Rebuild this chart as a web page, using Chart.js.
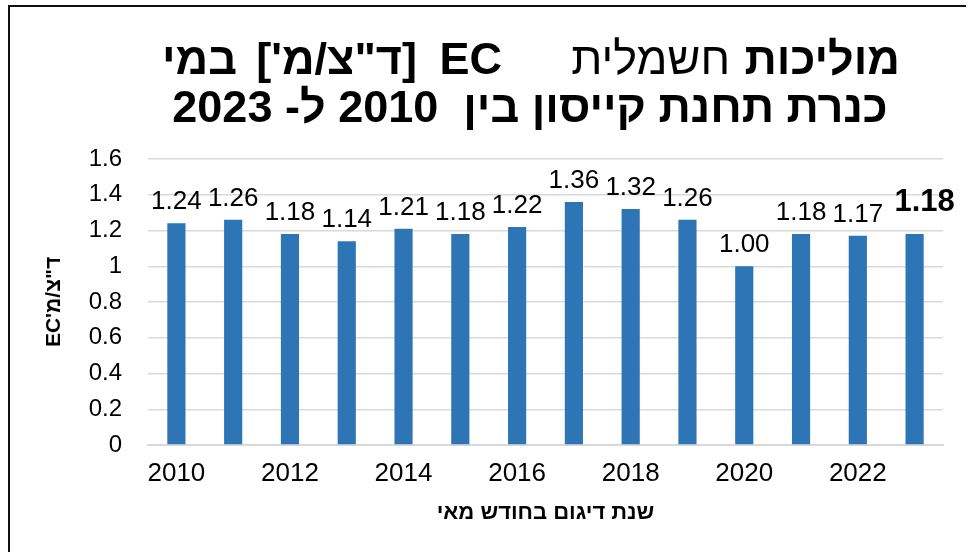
<!DOCTYPE html>
<html>
<head>
<meta charset="utf-8">
<script src="https://cdn.jsdelivr.net/npm/chart.js@4.4.1/dist/chart.umd.min.js"></script>
<style>
  html, body { margin: 0; padding: 0; background: #fff; }
  #wrap { position: relative; width: 971px; height: 552px; }
</style>
</head>
<body>
<div id="wrap"><canvas id="ecChart" dir="rtl"></canvas></div>
<script>
// data
const years = ['2010', '2011', '2012', '2013', '2014', '2015', '2016',
  '2017', '2018', '2019', '2020', '2021', '2022', '2023'];
const ecValues = [1.24, 1.26, 1.18, 1.14, 1.21, 1.18, 1.22,
  1.36, 1.32, 1.26, 1.00, 1.18, 1.17, 1.18];
const yTickValues = [0, 0.2, 0.4, 0.6, 0.8, 1, 1.2, 1.4, 1.6];

// title pieces, logical (right-to-left) order, with weight
const titleLine1 = [
  { text: 'מוליכות', bold: true },
  { text: 'חשמלית', bold: false },
  { text: 'EC', bold: true },
  { text: '[ד"צ/מ\']', bold: true },
  { text: 'במי', bold: true },
];
const titleLine2 = 'כנרת תחנת קייסון בין  2010 ל- 2023';
const yAxisTitle = 'ד"צ/מ\'EC';
const xAxisTitle = 'שנת דיגום בחודש מאי';

const FONT = '"Liberation Sans", Arial, sans-serif';
Chart.defaults.font.family = FONT;
Chart.defaults.color = '#000';

// border + two-line title with mixed weight
const frameAndTitle = {
  id: 'frameAndTitle',
  afterDraw(chart) {
    const ctx = chart.ctx;
    ctx.save();
    ctx.strokeStyle = '#111';
    ctx.lineWidth = 2;
    ctx.beginPath();
    ctx.moveTo(9, 552);
    ctx.lineTo(9, 6);
    ctx.lineTo(966, 6);
    ctx.stroke();

    ctx.direction = 'rtl';
    ctx.fillStyle = '#000';
    ctx.textBaseline = 'alphabetic';
    ctx.textAlign = 'right';
    // right edge of each piece on line 1
    const rightEdges = [900, 730, 502, 417, 237];
    titleLine1.forEach((seg, i) => {
      ctx.font = (seg.bold ? 'bold ' : '') + '45px ' + FONT;
      ctx.fillText(seg.text, rightEdges[i], 74);
    });
    ctx.textAlign = 'center';
    ctx.font = 'bold 45px ' + FONT;
    ctx.fillText(titleLine2, 530, 122);
    ctx.restore();
  }
};

// value labels above the bars, last one bold and larger
const valueLabels = {
  id: 'valueLabels',
  afterDatasetsDraw(chart) {
    const ctx = chart.ctx;
    const meta = chart.getDatasetMeta(0);
    ctx.save();
    ctx.textAlign = 'center';
    ctx.textBaseline = 'alphabetic';
    ctx.fillStyle = '#000';
    meta.data.forEach((bar, i) => {
      const last = i === meta.data.length - 1;
      ctx.font = last ? 'bold 31px ' + FONT : '26px ' + FONT;
      ctx.fillText(ecValues[i].toFixed(2), bar.x + (last ? 10 : 0), bar.y - (last ? 23 : 14));
    });
    ctx.restore();
  }
};

new Chart(document.getElementById('ecChart'), {
  type: 'bar',
  data: {
    labels: years,
    datasets: [{
      data: ecValues,
      backgroundColor: '#2e75b6',
      borderWidth: 0,
      barPercentage: 0.32,
      categoryPercentage: 1,
    }],
  },
  options: {
    responsive: true,
    maintainAspectRatio: false,
    animation: false,
    layout: { padding: { top: 159, right: 28, left: 20, bottom: 18 } },
    plugins: { legend: { display: false }, tooltip: { enabled: false } },
    scales: {
      x: {
        grid: { display: false, drawTicks: false },
        border: { color: '#d9d9d9', width: 2 },
        ticks: {
          autoSkip: false,
          maxRotation: 0,
          padding: 13,
          font: { size: 26 },
          color: '#000',
          callback: (v, i) => (i % 2 === 0 ? years[i] : ''),
        },
        title: {
          display: true,
          text: xAxisTitle,
          font: { size: 22, weight: 'bold' },
          padding: { top: 4, bottom: 8 },
        },
        afterFit: (s) => { s.height = 552 - 445 - 18; },
      },
      y: {
        min: 0,
        max: 1.6,
        grid: { color: '#d9d9d9', lineWidth: 1.5, drawTicks: false },
        border: { display: false },
        afterBuildTicks: (s) => { s.ticks = yTickValues.map((v) => ({ value: v })); },
        ticks: {
          padding: 26,
          font: { size: 24 },
          color: '#000',
          callback: (v) => String(v),
        },
        title: {
          display: true,
          text: yAxisTitle,
          font: { size: 21, weight: 'bold' },
          padding: { top: 22, bottom: 0 },
        },
        afterFit: (s) => { s.width = 148 - 20; },
      },
    },
  },
  plugins: [frameAndTitle, valueLabels],
});
</script>
</body>
</html>
